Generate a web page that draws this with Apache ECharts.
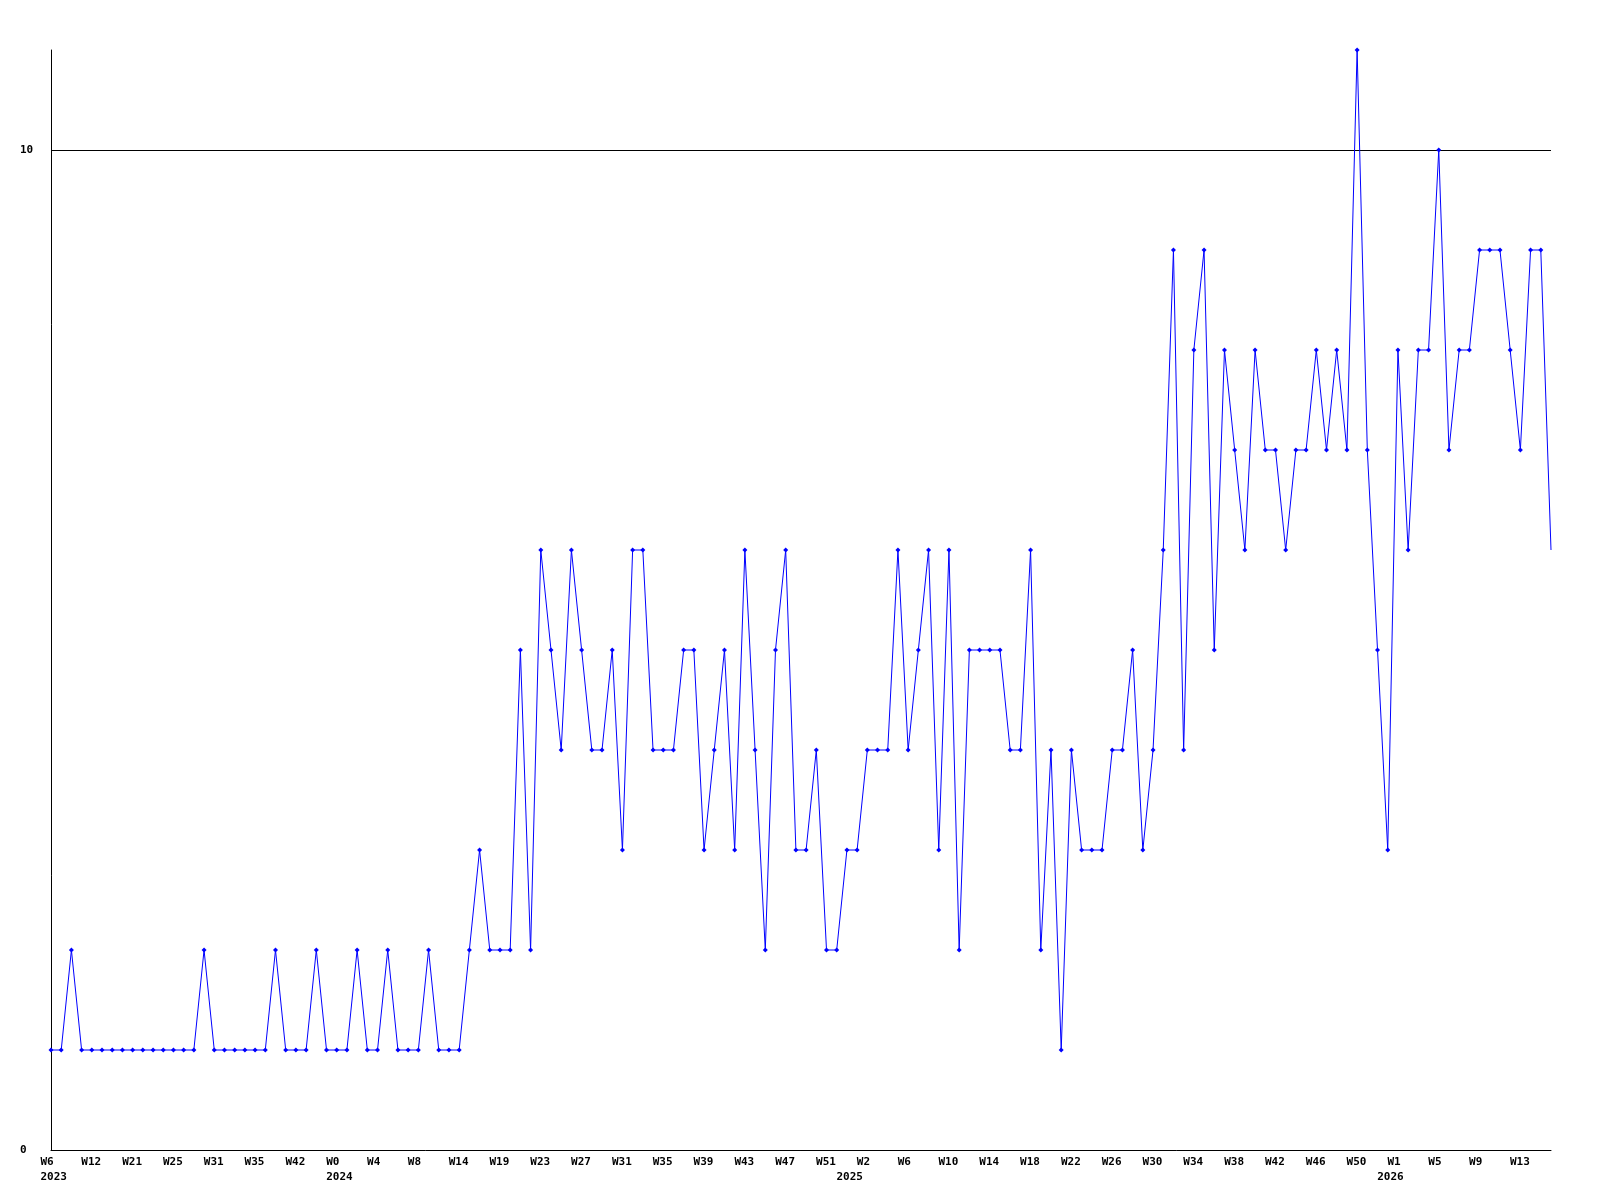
<!DOCTYPE html>
<html>
<head>
<meta charset="utf-8">
<title>weekly</title>
<script src="https://cdn.jsdelivr.net/npm/echarts@6/dist/echarts.min.js"></script>
<style>
  html, body { margin: 0; padding: 0; background: #fff; }
  #main { width: 1600px; height: 1200px; }
</style>
</head>
<body>
<div id="main"></div>
<script>
// weekly values, one per point
const values = [
  1, 1, 2, 1, 1, 1, 1, 1, 1, 1,
  1, 1, 1, 1, 1, 2, 1, 1, 1, 1,
  1, 1, 2, 1, 1, 1, 2, 1, 1, 1,
  2, 1, 1, 2, 1, 1, 1, 2, 1, 1,
  1, 2, 3, 2, 2, 2, 5, 2,
  6, 5, 4, 6, 5, 4, 4, 5, 3, 6,
  6, 4, 4, 4, 5, 5, 3, 4, 5, 3,
  6, 4, 2, 5, 6, 3, 3, 4, 2, 2,
  3, 3, 4, 4, 4, 6, 4, 5, 6, 3,
  6, 2, 5, 5, 5, 5, 4, 4, 6, 2,
  4, 1, 4, 3, 3, 3, 4, 4, 5, 3,
  4, 6, 9, 4, 8, 9, 5, 8, 7, 6,
  8, 7, 7, 6, 7, 7, 8, 7, 8, 7,
  11, 7, 5, 3, 8, 6, 8, 8, 10, 7,
  8, 8, 9, 9, 9, 8, 7, 9, 9, 6
];

// week label shown on every 4th point
const weekTicks = [
  "W6", "W12", "W21", "W25", "W31", "W35", "W42",
  "W0", "W4", "W8", "W14", "W19", "W23", "W27", "W31", "W35", "W39", "W43", "W47", "W51",
  "W2", "W6", "W10", "W14", "W18", "W22", "W26", "W30", "W34", "W38", "W42", "W46", "W50",
  "W1", "W5", "W9", "W13"
];
const tickStep = 4;

// year label and the point where that year starts
const years = ["2023", "2024", "2025", "2026"];
const yearStart = [0, 28, 78, 131];

const yTicks = [0, 10];

const categories = values.map((v, i) => String(i));

function weekOf(i) {
  return i % tickStep === 0 ? weekTicks[i / tickStep] || "" : "";
}
function yearOf(i) {
  const k = yearStart.indexOf(i);
  return k >= 0 ? years[k] : "";
}

const font = {
  fontFamily: "DejaVu Sans Mono",
  fontWeight: "bold",
  fontSize: 11,
  color: "#000"
};

const chart = echarts.init(document.getElementById("main"));
chart.setOption({
  animation: false,
  backgroundColor: "#fff",
  grid: {
    left: 51,
    right: 49,
    top: 50,
    bottom: 50
  },
  xAxis: {
    type: "category",
    data: categories,
    boundaryGap: false,
    axisLine: { lineStyle: { color: "#000", width: 1 } },
    axisTick: { show: false },
    splitLine: { show: false },
    axisLabel: Object.assign({}, font, {
      margin: 5,
      lineHeight: 15,
      align: "center",
      verticalAlign: "top",
      interval: (i) => weekOf(i) !== "" || yearOf(i) !== "",
      // text starts a little left of the point, like the original
      formatter: (val, i) =>
        "{w|" + (weekOf(i) || " ") + "}\n{w|" + (yearOf(i) || " ") + "}",
      rich: {
        w: Object.assign({}, font, { width: 21, align: "left", lineHeight: 15 })
      }
    })
  },
  yAxis: {
    type: "value",
    min: yTicks[0],
    max: 11,
    interval: yTicks[1] - yTicks[0],
    axisLine: { show: true, lineStyle: { color: "#000", width: 1 } },
    axisTick: { show: false },
    splitLine: {
      show: true,
      showMinLine: false,
      showMaxLine: false,
      lineStyle: { color: "#000", width: 1 }
    },
    axisLabel: Object.assign({}, font, {
      align: "left",
      margin: 31,
      showMaxLabel: false
    })
  },
  series: [
    {
      type: "line",
      data: values,
      // last point has no marker in the original
      symbol: (v, p) => (p.dataIndex === values.length - 1 ? "none" : "diamond"),
      symbolSize: 5,
      showAllSymbol: true,
      lineStyle: { color: "#0000ff", width: 1 },
      itemStyle: { color: "#0000ff" }
    }
  ]
});
</script>
</body>
</html>
